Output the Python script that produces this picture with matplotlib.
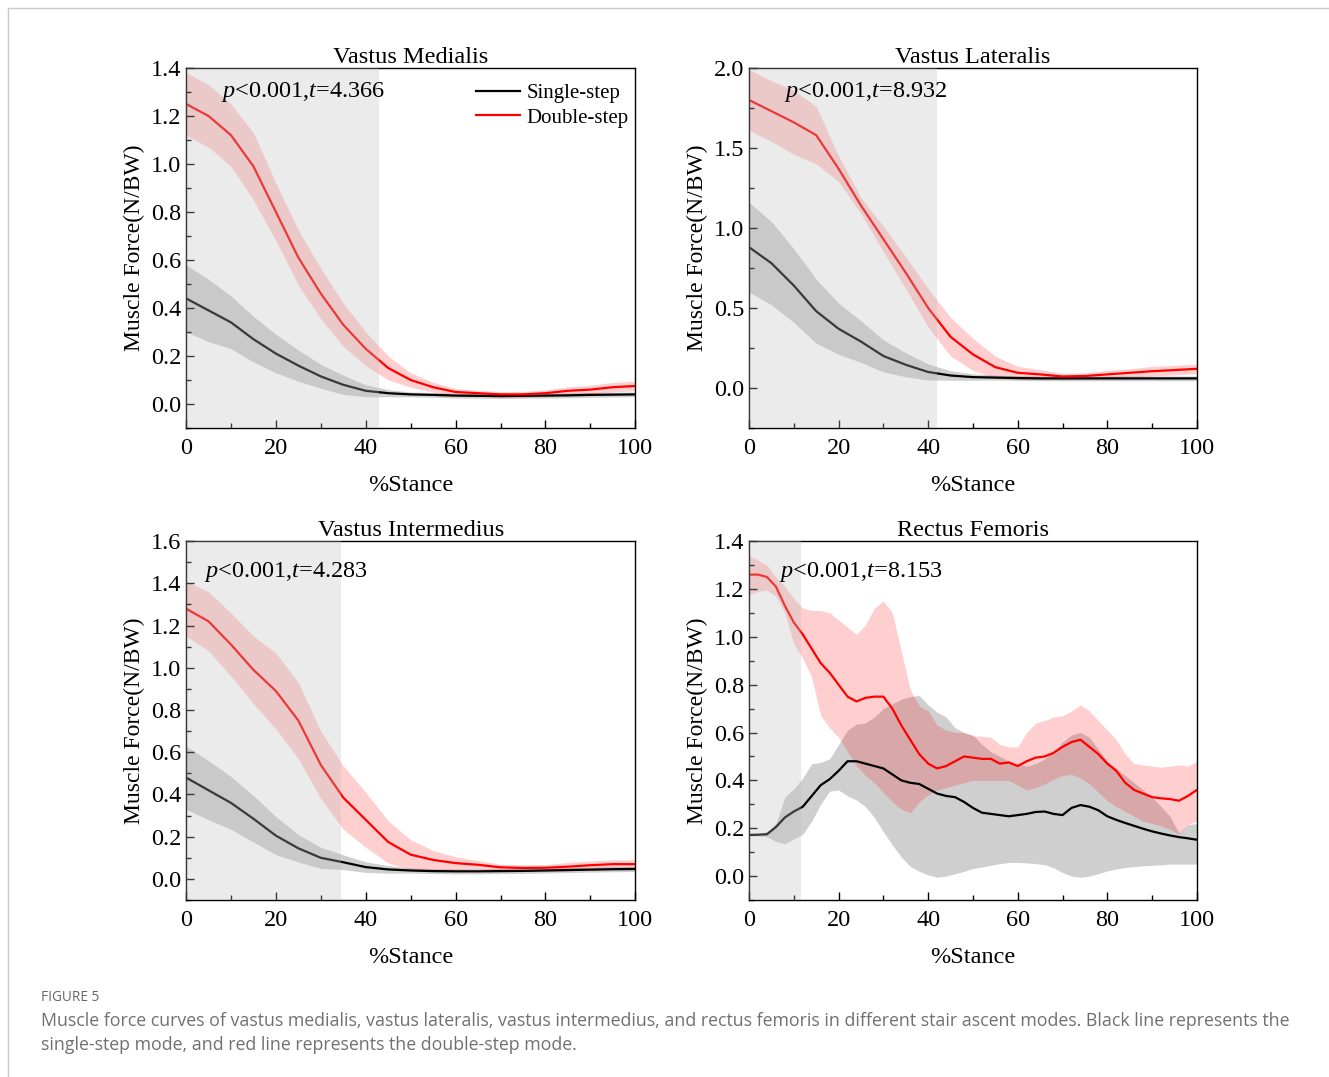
import matplotlib
matplotlib.use("Agg")
import matplotlib.pyplot as plt
import numpy as np
from matplotlib.ticker import MultipleLocator

plt.rcParams['font.family'] = 'Liberation Serif'
plt.rcParams['mathtext.fontset'] = 'custom'
plt.rcParams['mathtext.rm'] = 'Liberation Serif'
plt.rcParams['mathtext.it'] = 'Liberation Serif:italic'

# %Stance grid for the three smooth panels
stance = [0, 5, 10, 15, 20, 25, 30, 35, 40, 45, 50, 55, 60, 65, 70, 75, 80, 85, 90, 95, 100]

# Vastus Medialis
vm_single = [0.44, 0.39, 0.34, 0.27, 0.21, 0.16, 0.115, 0.08, 0.055, 0.045, 0.04, 0.038, 0.035,
             0.034, 0.033, 0.034, 0.035, 0.036, 0.038, 0.039, 0.04]
vm_single_sd = [0.14, 0.13, 0.11, 0.095, 0.08, 0.065, 0.05, 0.04, 0.025, 0.015, 0.01, 0.01, 0.01,
                0.01, 0.01, 0.01, 0.01, 0.01, 0.01, 0.01, 0.01]
vm_double = [1.25, 1.20, 1.12, 0.99, 0.80, 0.61, 0.46, 0.33, 0.23, 0.15, 0.10, 0.07, 0.05,
             0.045, 0.04, 0.04, 0.045, 0.055, 0.06, 0.07, 0.075]
vm_double_sd = [0.13, 0.13, 0.13, 0.14, 0.12, 0.115, 0.105, 0.09, 0.07, 0.05, 0.03, 0.02, 0.015,
                0.012, 0.012, 0.012, 0.014, 0.016, 0.018, 0.02, 0.02]

# Vastus Lateralis
vl_single = [0.88, 0.78, 0.64, 0.48, 0.37, 0.29, 0.20, 0.145, 0.10, 0.078, 0.068, 0.065, 0.062,
             0.06, 0.06, 0.06, 0.06, 0.06, 0.06, 0.06, 0.06]
vl_single_sd = [0.28, 0.26, 0.23, 0.20, 0.16, 0.13, 0.10, 0.075, 0.05, 0.03, 0.02, 0.015, 0.015,
                0.015, 0.015, 0.015, 0.015, 0.015, 0.015, 0.015, 0.015]
vl_double = [1.80, 1.73, 1.66, 1.58, 1.37, 1.14, 0.93, 0.72, 0.50, 0.32, 0.21, 0.13, 0.095,
             0.085, 0.072, 0.075, 0.085, 0.095, 0.105, 0.112, 0.12]
vl_double_sd = [0.19, 0.19, 0.20, 0.18, 0.08, 0.05, 0.08, 0.10, 0.12, 0.12, 0.10, 0.07, 0.04,
                0.03, 0.02, 0.02, 0.025, 0.025, 0.03, 0.03, 0.03]

# Vastus Intermedius
vi_single = [0.48, 0.42, 0.36, 0.285, 0.205, 0.145, 0.10, 0.079, 0.056, 0.045, 0.04, 0.037, 0.036,
             0.036, 0.037, 0.038, 0.04, 0.042, 0.044, 0.046, 0.047]
vi_single_sd = [0.15, 0.14, 0.125, 0.11, 0.09, 0.065, 0.05, 0.035, 0.025, 0.018, 0.012, 0.012, 0.012,
                0.012, 0.012, 0.012, 0.012, 0.012, 0.012, 0.012, 0.012]
vi_double = [1.28, 1.22, 1.11, 0.99, 0.89, 0.75, 0.54, 0.385, 0.28, 0.175, 0.115, 0.09, 0.075,
             0.067, 0.055, 0.052, 0.053, 0.058, 0.065, 0.07, 0.07]
vi_double_sd = [0.13, 0.14, 0.15, 0.16, 0.18, 0.18, 0.16, 0.15, 0.13, 0.10, 0.07, 0.045, 0.03,
                0.02, 0.015, 0.015, 0.015, 0.02, 0.02, 0.02, 0.02]

# Rectus Femoris (finer grid, asymmetric bands)
rf_x = list(range(0, 101, 2))
rf_single = [0.172, 0.173, 0.175, 0.205, 0.245, 0.27, 0.29, 0.335, 0.38, 0.405, 0.44, 0.48, 0.48,
             0.47, 0.46, 0.45, 0.425, 0.40, 0.39, 0.385, 0.365, 0.345, 0.335, 0.33, 0.31, 0.285,
             0.265, 0.26, 0.255, 0.25, 0.255, 0.26, 0.268, 0.27, 0.26, 0.255, 0.285, 0.297, 0.29,
             0.275, 0.25, 0.235, 0.222, 0.21, 0.198, 0.187, 0.178, 0.17, 0.163, 0.158, 0.152]
rf_single_hi = [0.175, 0.178, 0.185, 0.22, 0.33, 0.365, 0.41, 0.47, 0.475, 0.49, 0.55, 0.61, 0.635,
                0.64, 0.665, 0.70, 0.72, 0.74, 0.75, 0.755, 0.715, 0.685, 0.665, 0.62, 0.60, 0.59,
                0.55, 0.52, 0.50, 0.48, 0.465, 0.46, 0.47, 0.49, 0.52, 0.56, 0.59, 0.60, 0.58,
                0.53, 0.48, 0.45, 0.42, 0.39, 0.36, 0.33, 0.29, 0.25, 0.18, 0.215, 0.22]
rf_single_lo = [0.168, 0.168, 0.165, 0.145, 0.135, 0.155, 0.175, 0.23, 0.30, 0.355, 0.36, 0.335, 0.318,
                0.29, 0.245, 0.185, 0.13, 0.08, 0.04, 0.02, 0.005, -0.005, 0.0, 0.01, 0.02, 0.032,
                0.038, 0.045, 0.052, 0.057, 0.057, 0.055, 0.052, 0.048, 0.035, 0.015, 0.0, -0.005, 0.0,
                0.01, 0.022, 0.03, 0.036, 0.04, 0.043, 0.045, 0.047, 0.05, 0.05, 0.05, 0.05]
rf_double = [1.26, 1.26, 1.25, 1.21, 1.13, 1.06, 1.01, 0.95, 0.89, 0.85, 0.80, 0.75, 0.73,
             0.745, 0.75, 0.75, 0.70, 0.63, 0.57, 0.51, 0.47, 0.45, 0.46, 0.48, 0.50, 0.495,
             0.49, 0.49, 0.47, 0.475, 0.46, 0.48, 0.495, 0.50, 0.515, 0.54, 0.56, 0.57, 0.54,
             0.51, 0.47, 0.44, 0.39, 0.36, 0.345, 0.33, 0.325, 0.322, 0.315, 0.335, 0.36]
rf_double_hi = [1.34, 1.32, 1.30, 1.25, 1.21, 1.16, 1.12, 1.11, 1.11, 1.10, 1.07, 1.04, 1.01,
                1.05, 1.12, 1.15, 1.10, 0.94, 0.78, 0.71, 0.69, 0.63, 0.61, 0.60, 0.60, 0.585,
                0.585, 0.58, 0.55, 0.54, 0.54, 0.60, 0.64, 0.65, 0.665, 0.67, 0.69, 0.715, 0.69,
                0.65, 0.61, 0.57, 0.51, 0.47, 0.465, 0.46, 0.455, 0.46, 0.465, 0.46, 0.48]
rf_double_lo = [1.175, 1.19, 1.195, 1.17, 1.10, 0.97, 0.91, 0.83, 0.67, 0.62, 0.58, 0.52, 0.46,
                0.42, 0.39, 0.35, 0.31, 0.28, 0.265, 0.31, 0.34, 0.36, 0.37, 0.38, 0.39, 0.40,
                0.40, 0.40, 0.40, 0.40, 0.38, 0.36, 0.37, 0.385, 0.405, 0.42, 0.425, 0.41, 0.385,
                0.35, 0.315, 0.29, 0.27, 0.25, 0.23, 0.22, 0.21, 0.195, 0.175, 0.215, 0.23]

titles = ['Vastus Medialis', 'Vastus Lateralis', 'Vastus Intermedius', 'Rectus Femoris']
stats = ['4.366', '8.932', '4.283', '8.153']
sig_end = [43, 42, 34.5, 11.5]
ylims = [(-0.1, 1.4), (-0.25, 2.0), (-0.1, 1.6), (-0.1, 1.4)]
ysteps = [0.2, 0.5, 0.2, 0.2]
stat_pos = [(0.078, 0.933), (0.078, 0.933), (0.04, 0.913), (0.067, 0.913)]

fig = plt.figure(figsize=(13.29, 10.77), dpi=100)
rects = [[0.140, 0.6026, 0.338, 0.3343], [0.5636, 0.6026, 0.337, 0.3343],
         [0.140, 0.1643, 0.338, 0.3333], [0.5636, 0.1643, 0.337, 0.3333]]

panels = []
for (m1, s1, m2, s2) in [(vm_single, vm_single_sd, vm_double, vm_double_sd),
                         (vl_single, vl_single_sd, vl_double, vl_double_sd),
                         (vi_single, vi_single_sd, vi_double, vi_double_sd)]:
    m1, s1, m2, s2 = map(np.array, (m1, s1, m2, s2))
    panels.append((stance, m1, m1 - s1, m1 + s1, m2, m2 - s2, m2 + s2))
panels.append((rf_x, rf_single, rf_single_lo, rf_single_hi, rf_double, rf_double_lo, rf_double_hi))

for i, (x, m1, lo1, hi1, m2, lo2, hi2) in enumerate(panels):
    ax = fig.add_axes(rects[i])
    ax.fill_between(x, lo1, hi1, color='black', alpha=0.19, linewidth=0)
    ax.fill_between(x, lo2, hi2, color='red', alpha=0.19, linewidth=0)
    ax.plot(x, m1, color='black', lw=1.6, label='Single-step')
    ax.plot(x, m2, color='red', lw=1.6, label='Double-step')
    ax.axvspan(0, sig_end[i], color='#bdbdbd', alpha=0.3, lw=0, zorder=5)

    ax.set_xlim(0, 100)
    ax.set_ylim(*ylims[i])
    ax.xaxis.set_major_locator(MultipleLocator(20))
    ax.xaxis.set_minor_locator(MultipleLocator(10))
    ax.yaxis.set_major_locator(MultipleLocator(ysteps[i]))
    ax.yaxis.set_minor_locator(MultipleLocator(ysteps[i] / 2))
    ax.tick_params(which='both', direction='in', labelsize=17.5, top=False, right=False)
    ax.tick_params(which='major', length=6, width=1)
    ax.tick_params(which='minor', length=3.5, width=1)
    ax.yaxis.set_major_formatter(matplotlib.ticker.FormatStrFormatter('%.1f'))
    ax.tick_params(axis='x', pad=7)
    for sp in ax.spines.values():
        sp.set_linewidth(1)

    ax.set_title(titles[i], fontsize=17.5, pad=3)
    ax.set_xlabel('%Stance', fontsize=17.5, labelpad=12)
    ax.set_ylabel('Muscle Force(N/BW)', fontsize=17, labelpad=4)
    ax.text(stat_pos[i][0], stat_pos[i][1], r'$\it{p}$<0.001,$\it{t}$=' + stats[i],
            transform=ax.transAxes, fontsize=17.5, va='center', ha='left', zorder=6)
    if i == 0:
        ax.legend(loc='upper right', bbox_to_anchor=(1.011, 0.989), frameon=False, fontsize=15,
                  handlelength=2.15, handletextpad=0.3, labelspacing=0.25, borderaxespad=0.15)

# outer frame lines and caption
fig.add_artist(plt.Line2D([0.006, 1.0], [0.9925, 0.9925], color='#c8c8c8', lw=1))
fig.add_artist(plt.Line2D([0.006, 0.006], [0.0, 0.9925], color='#c8c8c8', lw=1))
fig.text(0.031, 0.074, 'FIGURE 5', fontsize=9.8, color='#666666', family='Open Sans', va='center')
fig.text(0.031, 0.052, 'Muscle force curves of vastus medialis, vastus lateralis, vastus intermedius, '
         'and rectus femoris in different stair ascent modes. Black line represents the',
         fontsize=12.75, color='#707070', family='Open Sans', va='center')
fig.text(0.031, 0.030, 'single-step mode, and red line represents the double-step mode.',
         fontsize=12.75, color='#707070', family='Open Sans', va='center')

fig.savefig('out.png', dpi=100)
